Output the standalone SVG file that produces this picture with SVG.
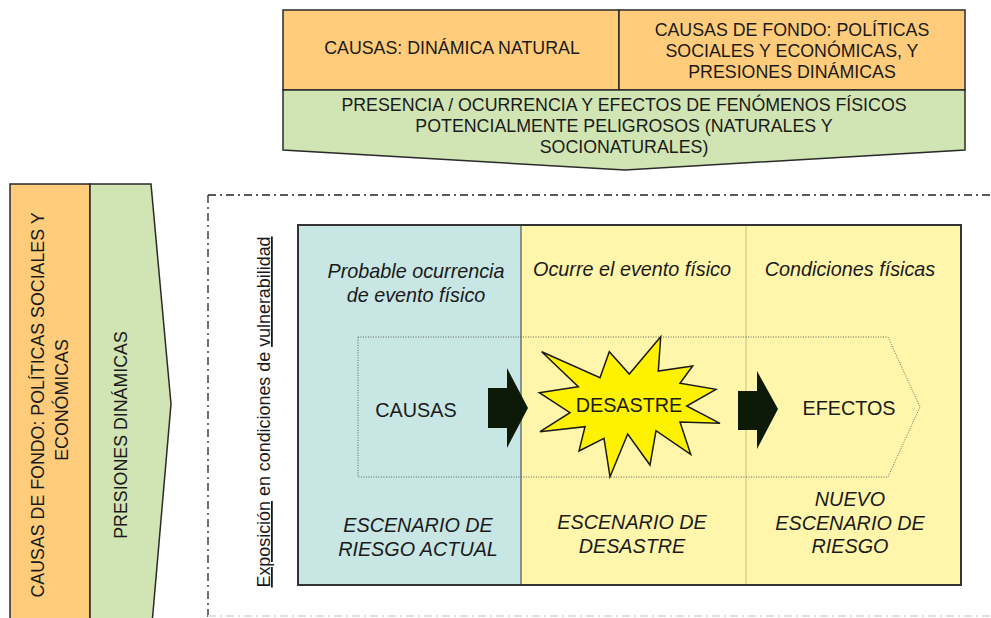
<svg xmlns="http://www.w3.org/2000/svg" width="991" height="618" viewBox="0 0 991 618">
<style>
text{font-family:"Liberation Sans",Arial,sans-serif;fill:#1a1a1a;}
.t18{font-size:17.8px;text-anchor:middle;}
.t20{font-size:19.8px;text-anchor:middle;}
.it{font-style:italic;}
.or{fill:#FFCC7C;stroke:#2a2a2a;stroke-width:1.5;}
.gr{fill:#D1E4B3;stroke:#2a2a2a;stroke-width:1.5;}
</style>
<rect width="991" height="618" fill="#ffffff"/>

<g id="top-causas-natural">
<rect class="or" x="283" y="10" width="336" height="80"/>
<text class="t18" x="452" y="54">CAUSAS: DINÁMICA NATURAL</text>
</g>
<g id="top-causas-fondo">
<rect class="or" x="619" y="10" width="346" height="80"/>
<text class="t18" x="792" y="36">CAUSAS DE FONDO: POLÍTICAS</text>
<text class="t18" x="792" y="57">SOCIALES Y ECONÓMICAS, Y</text>
<text class="t18" x="792" y="78">PRESIONES DINÁMICAS</text>
</g>
<g id="top-fenomenos">
<polygon class="gr" points="283,90 965,90 965,150 625,170 283,150"/>
<text class="t18" x="624" y="111">PRESENCIA / OCURRENCIA Y EFECTOS DE FENÓMENOS FÍSICOS</text>
<text class="t18" x="624" y="132">POTENCIALMENTE PELIGROSOS (NATURALES Y</text>
<text class="t18" x="624" y="153">SOCIONATURALES)</text>
</g>

<g id="left-causas-fondo">
<rect class="or" x="10" y="184" width="80" height="440"/>
<text class="t18" transform="translate(44,405) rotate(-90)">CAUSAS DE FONDO: POLÍTICAS SOCIALES Y</text>
<text class="t18" transform="translate(68,400) rotate(-90)">ECONÓMICAS</text>
</g>
<g id="left-presiones">
<polygon class="gr" points="90,184 151,184 171,404 152,624 90,624"/>
<text class="t18" transform="translate(127,435) rotate(-90)">PRESIONES DINÁMICAS</text>
</g>

<g id="frame">
<path d="M208,195 H991 M208,195 V618" fill="none" stroke="#222" stroke-width="1.3" stroke-dasharray="8,4,2,4"/>
<path d="M208,616 H991" fill="none" stroke="#e0e0e0" stroke-width="2" stroke-dasharray="8,4,2,4"/>
<text transform="translate(270,412) rotate(-90)" style="font-size:17.9px;text-anchor:middle;"><tspan text-decoration="underline">Exposición</tspan> en condiciones de <tspan text-decoration="underline">vulnerabilidad</tspan></text>
</g>

<g id="scenario-box">
<rect x="298" y="225" width="223" height="360" fill="#C8E6E3"/>
<rect x="521" y="225" width="440" height="360" fill="#FFF6AB"/>
<line x1="521" y1="225" x2="521" y2="585" stroke="#555" stroke-width="1.2"/>
<line x1="746" y1="225" x2="746" y2="585" stroke="#c8c08a" stroke-width="1"/>
<rect x="298" y="225" width="663" height="360" fill="none" stroke="#333" stroke-width="2"/>
</g>

<g id="process-band">
<polygon points="358,337 888,337 920,407 888,477 358,477" fill="none" stroke="#555" stroke-width="0.9" stroke-dasharray="1,1.5"/>
</g>

<g id="col-actual">
<text class="t20 it" x="416" y="278">Probable ocurrencia</text>
<text class="t20 it" x="416" y="302">de evento físico</text>
<text class="t20" x="416" y="417">CAUSAS</text>
<text class="t20 it" x="418" y="532">ESCENARIO DE</text>
<text class="t20 it" x="418" y="556">RIESGO ACTUAL</text>
</g>

<g id="col-desastre">
<text class="t20 it" x="632" y="276">Ocurre el evento físico</text>
<polygon points="541.7,351.7 600,377.7 609.3,351.7 629.3,374 660.7,336.7 658.3,371 692.7,366 680,383.3 716,389.3 686.7,406 720,423.3 680,422 690.7,454.3 656,430.7 650,465 627.7,434 610,476.7 604,438.3 579,451 585,426.7 540,431.7 570,412.7 539.3,392.7 578.3,386.7" fill="#FFF200" stroke="#1a1a1a" stroke-width="1.5" stroke-linejoin="miter"/>
<text class="t20" x="629" y="412">DESASTRE</text>
<text class="t20 it" x="632" y="529">ESCENARIO DE</text>
<text class="t20 it" x="632" y="553">DESASTRE</text>
</g>

<g id="col-nuevo">
<text class="t20 it" x="850" y="276">Condiciones físicas</text>
<text class="t20" x="849" y="415">EFECTOS</text>
<text class="t20 it" x="850" y="506">NUEVO</text>
<text class="t20 it" x="850" y="530">ESCENARIO DE</text>
<text class="t20 it" x="850" y="553">RIESGO</text>
</g>

<g id="connectors">
<polygon points="488,388 507,388 507,368 528,408 507,448 507,428 488,428" fill="#0D1A08"/>
<polygon points="738,391 757,391 757,371 778,409 757,449 757,430 738,430" fill="#0D1A08"/>
</g>
</svg>
